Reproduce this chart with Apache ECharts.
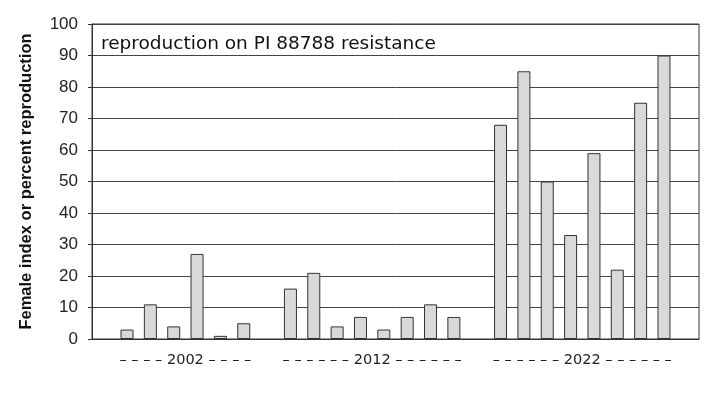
<!DOCTYPE html>
<html>
<head>
<meta charset="utf-8">
<script src="https://cdn.jsdelivr.net/npm/echarts@6/dist/echarts.min.js"></script>
<style>
html,body{margin:0;padding:0;background:#fff;}
#chart{width:715px;height:396px;}
</style>
</head>
<body>
<div id="chart"></div>
<script>
const chartTitle = 'reproduction on PI 88788 resistance';
const yAxisName = 'Female index or percent reproduction';
const groupYears = ['2002', '2012', '2022'];
const groupDashes = [4, 6, 6];
const values2002 = [3, 11, 4, 27, 1, 5];
const values2012 = [16, 21, 4, 7, 3, 7, 11, 7];
const values2022 = [68, 85, 50, 33, 59, 22, 75, 90];
const yTicks = [0, 10, 20, 30, 40, 50, 60, 70, 80, 90, 100];

// Build slots: one empty slot before, between and after groups
const groups = [values2002, values2012, values2022];
const slotCats = [];
const slotVals = [];
const groupCenters = []; // in half-slot units
slotCats.push('gap0'); slotVals.push('-');
groups.forEach((g, gi) => {
  const start = slotCats.length;
  g.forEach((v, i) => { slotCats.push(groupYears[gi] + '_' + i); slotVals.push(v); });
  groupCenters.push(2 * start + g.length);
  slotCats.push('gap' + (gi + 1)); slotVals.push('-');
});
const halfCats = [];
for (let k = 0; k <= 2 * slotCats.length; k++) {
  const gi = groupCenters.indexOf(k);
  if (gi >= 0) {
    const d = new Array(groupDashes[gi]).fill('\u2013').join(' ');
    halfCats.push(d + ' ' + groupYears[gi] + ' ' + d);
  } else {
    halfCats.push('');
  }
}

const chart = echarts.init(document.getElementById('chart'), null, {renderer: 'canvas'});
chart.setOption({
  animation: false,
  backgroundColor: '#ffffff',
  title: {
    text: chartTitle,
    left: 96,
    top: 30,
    textStyle: {fontFamily: 'DejaVu Sans', fontSize: 18.5, fontWeight: 'normal', color: '#111'}
  },
  grid: {
    left: 92, right: 16, top: 24, bottom: 57,
    show: true, borderColor: '#333', borderWidth: 1
  },
  xAxis: [{
    type: 'category',
    data: slotCats,
    boundaryGap: true,
    axisLine: {show: true, lineStyle: {color: '#333', width: 1}},
    axisTick: {show: false},
    axisLabel: {show: false},
    splitLine: {show: false}
  }, {
    type: 'category',
    data: halfCats,
    boundaryGap: false,
    position: 'bottom',
    axisLine: {show: false},
    axisTick: {show: false},
    axisLabel: {
      show: true, interval: 0, margin: 14,
      fontFamily: 'DejaVu Sans', fontSize: 14.5, color: '#222'
    },
    splitLine: {show: false}
  }],
  yAxis: {
    type: 'value',
    min: yTicks[0],
    max: yTicks[yTicks.length - 1],
    interval: yTicks[1] - yTicks[0],
    name: yAxisName,
    nameLocation: 'middle',
    nameGap: 57,
    nameTextStyle: {fontFamily: 'Liberation Sans', fontSize: 16.5, fontWeight: 'bold', color: '#111'},
    axisLine: {show: true, lineStyle: {color: '#333', width: 1}},
    axisTick: {show: true, length: 4, lineStyle: {color: '#333'}},
    axisLabel: {margin: 14, fontFamily: 'Liberation Sans', fontSize: 17, color: '#222'},
    splitLine: {show: true, lineStyle: {color: '#444', width: 1}}
  },
  series: [{
    type: 'bar',
    xAxisIndex: 0,
    data: slotVals,
    barWidth: 13,
    itemStyle: {color: '#d9d9d9', borderColor: '#333', borderWidth: 1}
  }]
});
</script>
</body>
</html>
